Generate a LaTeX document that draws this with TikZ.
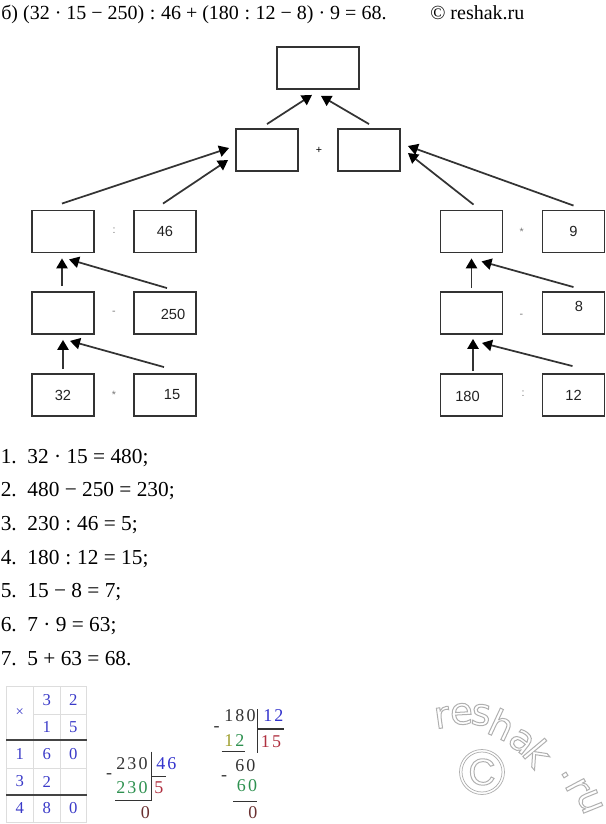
\documentclass[tikz,border=0pt]{standalone}
\usepackage{fontspec}
\setmainfont{Liberation Serif}
\newfontfamily\sansf{Liberation Sans}
\newfontfamily\wmfam{DejaVu Sans}
\usetikzlibrary{arrows.meta,calc}
\definecolor{boxc}{HTML}{333333}
\definecolor{boxtxt}{HTML}{222222}
\definecolor{opc}{HTML}{777777}
\definecolor{gridc}{HTML}{DDDDDD}
\definecolor{thickc}{HTML}{444444}
\definecolor{tblue}{HTML}{3A3AC8}
\definecolor{dblue}{HTML}{3333CC}
\definecolor{dgreen}{HTML}{2E9150}
\definecolor{colOlive}{HTML}{A0A030}
\definecolor{dred}{HTML}{B03040}
\definecolor{colBrown}{HTML}{6A3030}
\definecolor{dtext}{HTML}{333333}
\definecolor{wm}{HTML}{B0B0B0}
\newcommand\kd{\kern1.6pt}
\newcommand\outl[1]{\special{pdf:literal direct 1 Tr 0.75 w}#1\special{pdf:literal direct 0 Tr}}
\begin{document}
\begin{tikzpicture}[x=0.75pt,y=-0.75pt,
  bx/.style={draw=boxc,line width=1.4pt,minimum width=46.5pt,minimum height=31.5pt,inner sep=0pt,
    font=\sansf\fontsize{11pt}{13pt}\selectfont,text=boxtxt},
  bt/.style={font=\sansf\fontsize{11pt}{13pt}\selectfont,text=boxtxt,inner sep=0pt},
  arr/.style={draw=boxc,line width=1.3pt,-{Triangle[length=7.5pt,width=8.5pt,color=black]}},
  op/.style={font=\sansf\fontsize{8pt}{9pt}\selectfont,text=opc,inner sep=0pt},
  hdr/.style={font=\fontsize{15pt}{18pt}\selectfont,inner sep=0pt,anchor=base west},
  lst/.style={font=\fontsize{16pt}{18pt}\selectfont,inner sep=0pt,anchor=base west},
  gridln/.style={draw=gridc,line width=0.75pt},
  thickln/.style={draw=thickc,line width=1.5pt},
  tdig/.style={font=\fontsize{12.5pt}{14pt}\selectfont,text=tblue,inner sep=0pt},
  divf/.style={font=\fontsize{13.5pt}{15pt}\selectfont,inner sep=0pt,anchor=base west},
  divln/.style={draw=dtext,line width=0.8pt},
  wmt/.style={inner sep=0pt,text=wm,font=\wmfam\fontsize{28pt}{30pt}\selectfont},
  wmline/.style={draw=wm,line width=0.55pt}]
\useasboundingbox (0,0) rectangle (606,824);
% header
\node[hdr] (hdr) at (1,19.5) {б) (32 · 15 − 250)\;:\;46 + (180\;:\;12 − 8) · 9 = 68.};
\node[hdr] (copy) at (430,19.5) {© reshak.ru};
% tree boxes
\node[bx,minimum width=61.5pt] (top) at (318,68) {};
\node[bx] (mL) at (267,150) {};
\node[bx] (mR) at (369,150) {};
\node[bx] (a1) at (63,231.5) {};
\node[bx] (b1) at (165,231.5) {46};
\node[bx] (a2) at (63,313) {};
\node[bx] (b2) at (165,313) {};
\node[bx] (a3) at (63,395) {32};
\node[bx] (b3) at (165,395) {};
\node[bx] (c1) at (471.5,231.5) {};
\node[bx] (d1) at (573.5,231.5) {9};
\node[bx] (c2) at (471.5,313) {};
\node[bx] (d2) at (573.5,313) {};
\node[bx] (c3) at (471.5,395) {};
\node[bx] (d3) at (573.5,395) {12};
\node[bt] (t250) at ($(b2)+(8,1)$) {250};
\node[bt] (t15) at ($(b3)+(7,0)$) {15};
\node[bt] (t8) at ($(d2)+(5.5,-7)$) {8};
\node[bt] (t180) at ($(c3)+(-4,1)$) {180};
% operators
\node[op] (o1) at (114,231) {:};
\node[op] (o2) at (114,313) {-};
\node[op] (o3) at (114,395) {*};
\node[op] (o4) at (521.7,232) {*};
\node[op] (o5) at (521.5,316) {-};
\node[op] (o6) at (523,394) {:};
\node[op,text=black] (o7) at (319,150) {+};
% arrows
\draw[arr] ($(mL.north)+(0,-4)$) -- ($(top.south)+(-6,5)$);
\draw[arr] ($(mR.north)+(0,-4)$) -- ($(top.south)+(3,6)$);
\draw[arr] ($(a1.north)+(-1,-6)$) -- ($(mL.west)+(-6,-2)$);
\draw[arr] ($(b1.north)+(-2,-6)$) -- ($(mL.west)+(-7,10)$);
\draw[arr] ($(d1.north)+(0,-4)$) -- ($(mR.east)+(7,-4)$);
\draw[arr] ($(c1.north)+(2,-5)$) -- ($(mR.east)+(7,3)$);
\draw[arr] ($(a2.north)+(-1,-5)$) -- ($(a1.south)+(-1,5)$);
\draw[arr] ($(b2.north)+(2,-3)$) -- ($(a1.south)+(6,6)$);
\draw[arr] ($(a3.north)+(0,-4)$) -- ($(a2.south)+(0,5)$);
\draw[arr] ($(b3.north)+(-1,-6)$) -- ($(a2.south)+(7,6)$);
\draw[arr] ($(c2.north)+(0,-3)$) -- ($(c1.south)+(0,5)$);
\draw[arr] ($(d2.north)+(0,-4)$) -- ($(c1.south)+(10,8)$);
\draw[arr] ($(c3.north)+(1.5,-2)$) -- ($(c2.south)+(1.5,4)$);
\draw[arr] ($(d3.north)+(-1,-7)$) -- ($(c2.south)+(10.5,8)$);
% list
\node[lst] (l1) at (0.5,463) {1.\hspace{8pt}32 · 15 = 480;};
\node[lst] (l2) at (0.5,496.7) {2.\hspace{8pt}480 − 250 = 230;};
\node[lst] (l3) at (0.5,530.4) {3.\hspace{8pt}230\;:\;46 = 5;};
\node[lst] (l4) at (0.5,564.1) {4.\hspace{8pt}180\;:\;12 = 15;};
\node[lst] (l5) at (0.5,597.8) {5.\hspace{8pt}15 − 8 = 7;};
\node[lst] (l6) at (0.5,631.5) {6.\hspace{8pt}7 · 9 = 63;};
\node[lst] (l7) at (0.5,665.2) {7.\hspace{8pt}5 + 63 = 68.};
% multiplication table
\foreach \x in {6,33.3,60,86.7} \draw[gridln] (\x,686) -- (\x,822);
\draw[gridln] (6,686) -- (86.7,686);
\draw[gridln] (33.3,714) -- (86.7,714);
\draw[gridln] (6,768) -- (86.7,768);
\draw[gridln] (6,822) -- (86.7,822);
\draw[thickln] (6,740) -- (86.7,740);
\draw[thickln] (6,795) -- (86.7,795);
\node[tdig,font=\fontsize{11pt}{12pt}\selectfont] (mx) at (19.7,713) {×};
\node[tdig] (m12) at (46.7,700) {3};
\node[tdig] (m13) at (73.3,700) {2};
\node[tdig] (m22) at (46.7,727) {1};
\node[tdig] (m23) at (73.3,727) {5};
\node[tdig] (m31) at (19.7,754) {1};
\node[tdig] (m32) at (46.7,754) {6};
\node[tdig] (m33) at (73.3,754) {0};
\node[tdig] (m41) at (19.7,781.5) {3};
\node[tdig] (m42) at (46.7,781.5) {2};
\node[tdig] (m51) at (19.7,808.5) {4};
\node[tdig] (m52) at (46.7,808.5) {8};
\node[tdig] (m53) at (73.3,808.5) {0};
% division 230 : 46
\node[divf,text=dtext] (p1) at (116,769) {2\kd3\kd0};
\node[divf,text=dblue] (p2) at (156,769) {4\kd6};
\node[divf,text=dgreen] (p3) at (116,793.3) {2\kd3\kd0};
\node[divf,text=dred] (p4) at (154,793.3) {5};
\node[divf,text=colBrown] (p5) at (140.5,818) {0};
\node[divf,anchor=center,text=dtext] (p6) at (109,776) {-};
\draw[divln] (151.7,751.7) -- (151.7,800.7);
\draw[divln] (151.7,776.7) -- (166,776.7);
\draw[divln] (115,800.7) -- (151.7,800.7);
% division 180 : 12
\node[divf,text=dtext] (q1) at (224,721.7) {1\kd8\kd0};
\node[divf,text=dblue] (q2) at (263,721.7) {1\kd2};
\node[divf,text=dred] (q3) at (260.7,747.3) {1\kd5};
\node[divf,text=dgreen] (q4) at (224,746.7) {{\color{colOlive}1}\kd2};
\node[divf,text=dtext] (q5) at (235,771.7) {6\kd0};
\node[divf,text=dgreen] (q6) at (236.7,791.7) {6\kd0};
\node[divf,text=colBrown] (q7) at (248,818) {0};
\node[divf,anchor=center,text=dtext] (q8) at (216.7,729) {-};
\node[divf,anchor=center,text=dtext] (q9) at (224,778) {-};
\draw[divln] (257.7,709) -- (257.7,752.7);
\draw[divln] (257.7,729) -- (284,729);
\draw[divln] (221.7,751.7) -- (245,751.7);
\draw[divln] (233.3,801.7) -- (256.7,801.7);
% watermark
\foreach \ch/\px/\py/\rot [count=\i] in {r/442/717.5/8, e/461.5/714/3, s/481/715/-6, h/502/724.5/-25, a/521.5/741.5/-38, k/538.5/753/-50, ./565/775/-58, r/577/787/-62, u/590/801.5/-68}
  \node[wmt,rotate=\rot] (w\i) at (\px,\py) {\outl{\ch}};
\draw[wmline] (482,772) circle[radius=22.5];
\draw[wmline] (482,772) circle[radius=20];
\node[wmt,font=\sansf\fontsize{28pt}{30pt}\selectfont] (wmc) at (482,772) {\outl{C}};
\end{tikzpicture}
\end{document}
